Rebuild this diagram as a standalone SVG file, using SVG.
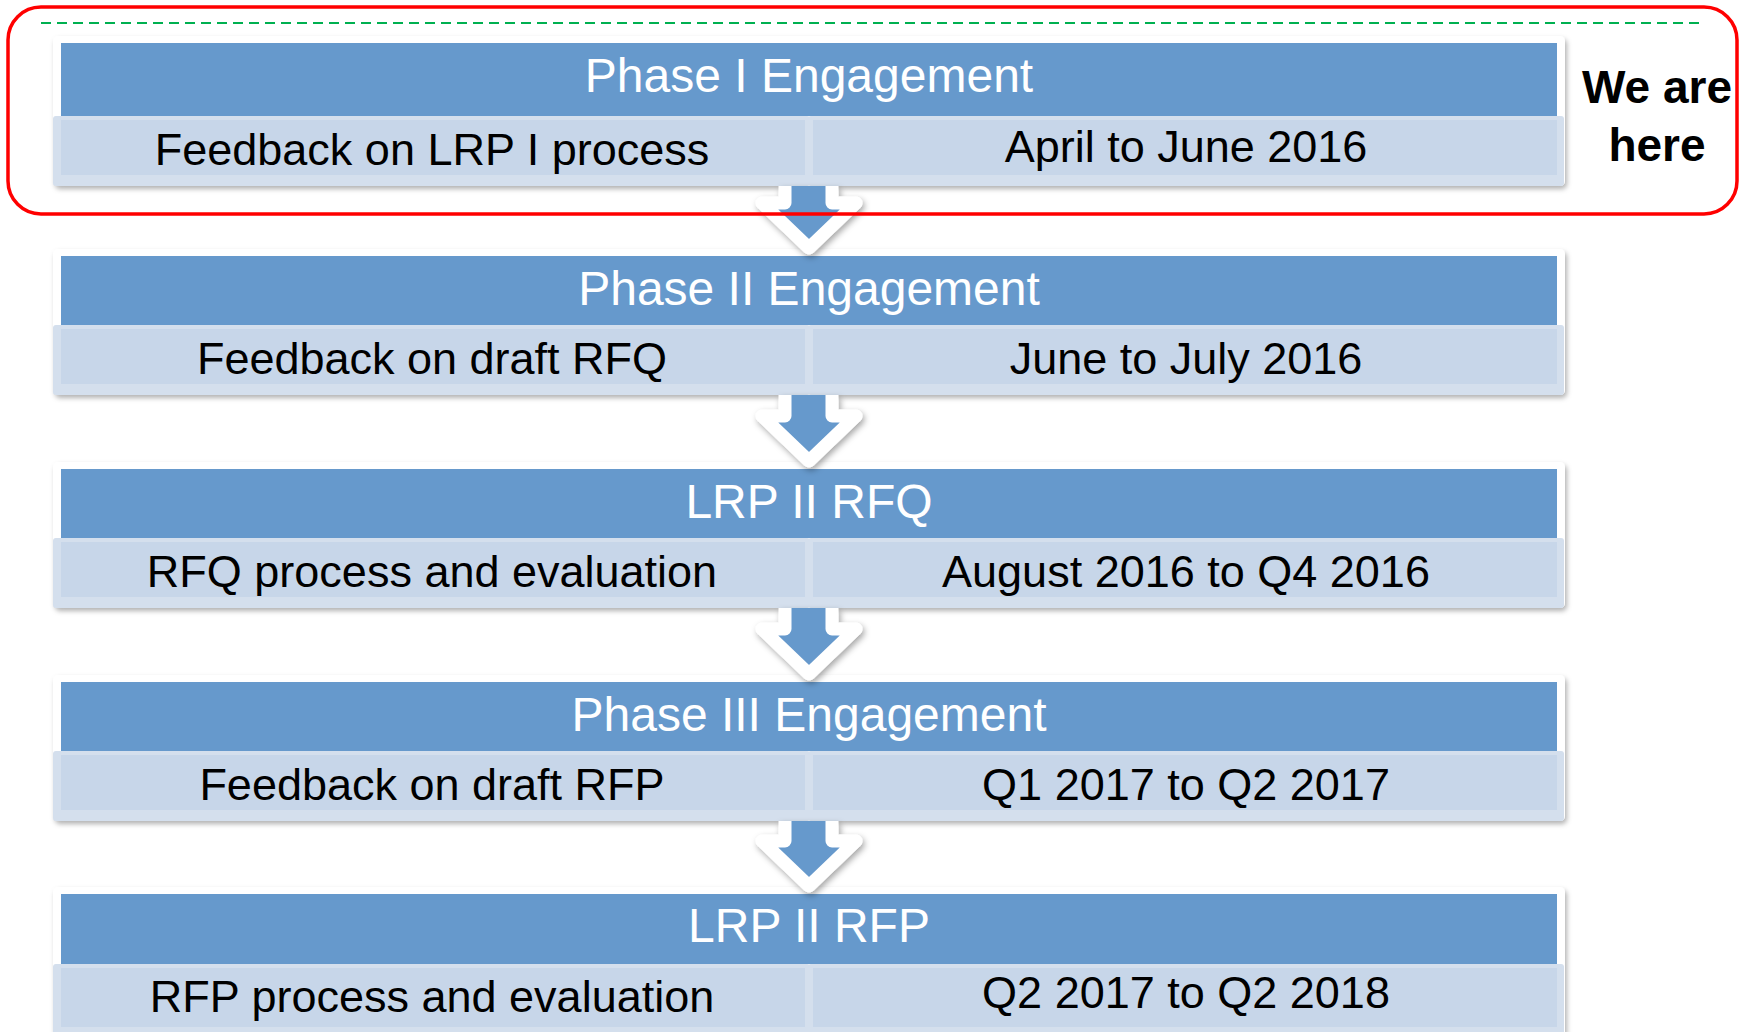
<svg xmlns="http://www.w3.org/2000/svg" width="1748" height="1032" viewBox="0 0 1748 1032">
<defs>
<filter id="sh" x="-5%" y="-20%" width="110%" height="150%">
<feDropShadow dx="2" dy="3" stdDeviation="2.5" flood-color="#000" flood-opacity="0.3"/>
</filter>
<filter id="ash" x="-30%" y="-30%" width="160%" height="160%">
<feDropShadow dx="2" dy="3" stdDeviation="3" flood-color="#000" flood-opacity="0.35"/>
</filter>
</defs>
<style>
.box{fill:#ffffff;filter:url(#sh)}
.hdr{fill:#6699cc}
.co{fill:#d4dfed}
.ci{fill:#c7d6e9}
.ht{font-family:"Liberation Sans",Arial,sans-serif;font-size:48px;fill:#ffffff;text-anchor:middle}
.rt{font-family:"Liberation Sans",Arial,sans-serif;font-size:45px;fill:#000000;text-anchor:middle}
.we{font-family:"Liberation Sans",Arial,sans-serif;font-size:46px;font-weight:bold;fill:#000000;text-anchor:middle}
.afill{fill:#6699cc;stroke:none}
.aline{fill:none;stroke:#ffffff;stroke-width:13;stroke-linejoin:round;stroke-linecap:butt}
</style>
<rect x="0" y="0" width="1748" height="1032" fill="#ffffff"/>

<g id="node1">
<rect class="box" x="53" y="36" width="1512" height="150" rx="5"/>
<rect class="hdr" x="61" y="43" width="1496" height="73"/>
<rect class="co" x="53" y="116" width="757" height="70" rx="3"/>
<rect class="ci" x="61" y="120" width="744" height="55"/>
<rect class="co" x="808" y="116" width="756" height="70" rx="3"/>
<rect class="ci" x="813" y="120" width="744" height="55"/>
<text class="ht" x="809" y="92">Phase I Engagement</text>
<text class="rt" x="432" y="165">Feedback on LRP I process</text>
<text class="rt" x="1186" y="162">April to June 2016</text>
</g>

<g id="node2">
<rect class="box" x="53" y="249" width="1512" height="146" rx="5"/>
<rect class="hdr" x="61" y="256" width="1496" height="69"/>
<rect class="co" x="53" y="325" width="757" height="70" rx="3"/>
<rect class="ci" x="61" y="329" width="744" height="55"/>
<rect class="co" x="808" y="325" width="756" height="70" rx="3"/>
<rect class="ci" x="813" y="329" width="744" height="55"/>
<text class="ht" x="809" y="305">Phase II Engagement</text>
<text class="rt" x="432" y="374">Feedback on draft RFQ</text>
<text class="rt" x="1186" y="374">June to July 2016</text>
</g>

<g id="node3">
<rect class="box" x="53" y="462" width="1512" height="146" rx="5"/>
<rect class="hdr" x="61" y="469" width="1496" height="69"/>
<rect class="co" x="53" y="538" width="757" height="70" rx="3"/>
<rect class="ci" x="61" y="542" width="744" height="55"/>
<rect class="co" x="808" y="538" width="756" height="70" rx="3"/>
<rect class="ci" x="813" y="542" width="744" height="55"/>
<text class="ht" x="809" y="518">LRP II RFQ</text>
<text class="rt" x="432" y="587">RFQ process and evaluation</text>
<text class="rt" x="1186" y="587">August 2016 to Q4 2016</text>
</g>

<g id="node4">
<rect class="box" x="53" y="675" width="1512" height="146" rx="5"/>
<rect class="hdr" x="61" y="682" width="1496" height="69"/>
<rect class="co" x="53" y="751" width="757" height="70" rx="3"/>
<rect class="ci" x="61" y="755" width="744" height="55"/>
<rect class="co" x="808" y="751" width="756" height="70" rx="3"/>
<rect class="ci" x="813" y="755" width="744" height="55"/>
<text class="ht" x="809" y="731">Phase III Engagement</text>
<text class="rt" x="432" y="800">Feedback on draft RFP</text>
<text class="rt" x="1186" y="800">Q1 2017 to Q2 2017</text>
</g>

<g id="node5">
<rect class="box" x="53" y="887" width="1512" height="150" rx="5"/>
<rect class="hdr" x="61" y="894" width="1496" height="70"/>
<rect class="co" x="53" y="964" width="757" height="70" rx="3"/>
<rect class="ci" x="61" y="968" width="744" height="59"/>
<rect class="co" x="808" y="964" width="756" height="70" rx="3"/>
<rect class="ci" x="813" y="968" width="744" height="59"/>
<text class="ht" x="809" y="942">LRP II RFP</text>
<text class="rt" x="432" y="1012">RFP process and evaluation</text>
<text class="rt" x="1186" y="1008">Q2 2017 to Q2 2018</text>
</g>

<g id="connectors">
<g filter="url(#ash)">
<polygon class="afill" points="785,186 785,203 762,203 809,248 856,203 832,203 832,186"/>
<polyline class="aline" points="785,186 785,203 762,203 809,248 856,203 832,203 832,186"/>
</g>
<g filter="url(#ash)">
<polygon class="afill" points="785,395 785,416 762,416 809,461 856,416 832,416 832,395"/>
<polyline class="aline" points="785,395 785,416 762,416 809,461 856,416 832,416 832,395"/>
</g>
<g filter="url(#ash)">
<polygon class="afill" points="785,608 785,629 762,629 809,674 856,629 832,629 832,608"/>
<polyline class="aline" points="785,608 785,629 762,629 809,674 856,629 832,629 832,608"/>
</g>
<g filter="url(#ash)">
<polygon class="afill" points="785,821 785,841 762,841 809,886 856,841 832,841 832,821"/>
<polyline class="aline" points="785,821 785,841 762,841 809,886 856,841 832,841 832,821"/>
</g>
</g>

<g id="highlight">
<line x1="41" y1="23" x2="1702" y2="23" stroke="#00b050" stroke-width="2" stroke-dasharray="10 6"/>
<rect x="8" y="7" width="1729" height="207" rx="33" fill="none" stroke="#ff0000" stroke-width="3.5"/>
<text class="we" x="1657" y="103">We are</text>
<text class="we" x="1657" y="161">here</text>
</g>
</svg>
